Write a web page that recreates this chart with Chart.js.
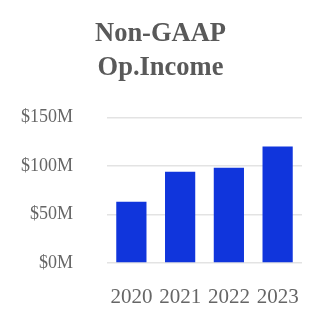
<!DOCTYPE html>
<html><head><meta charset="utf-8">
<script src="https://cdn.jsdelivr.net/npm/chart.js@4/dist/chart.umd.min.js"></script>
<style>html,body{margin:0;padding:0;background:#fff}#w{width:326px;height:326px}</style>
</head><body><div id="w"><canvas id="c"></canvas></div>
<script>
const categories = ["2020", "2021", "2022", "2023"];
const values = [63, 94, 98, 120];
const tickValues = [0, 50, 100, 150];
const titleLines = ["Non-GAAP", "Op.Income"];

new Chart(document.getElementById('c'), {
  type: 'bar',
  data: { labels: categories, datasets: [{ data: values, backgroundColor: '#1035dc', barPercentage: 0.62, categoryPercentage: 1 }] },
  options: {
    responsive: true, maintainAspectRatio: false, animation: false,
    layout: { padding: { left: 19, right: 24, top: 18, bottom: 23 } },
    plugins: {
      legend: { display: false }, tooltip: { enabled: false },
      title: { display: true, text: titleLines, color: '#595959', font: { family: 'Liberation Serif', size: 26.5, weight: 'bold', lineHeight: 1.25 }, padding: { top: 0, bottom: 33 } }
    },
    scales: {
      x: { grid: { display: false }, border: { display: false },
        afterFit: s => { s.height = 40; },
        ticks: { color: '#666', font: { family: 'Liberation Serif', size: 21 }, padding: 14, maxRotation: 0, autoSkip: false } },
      y: { min: 0, max: 150, afterBuildTicks: a => { a.ticks = tickValues.map(v => ({ value: v })); },
        afterFit: s => { s.width = 88; },
        grid: { color: '#e3e3e3', lineWidth: 1.5, drawTicks: false }, border: { display: false },
        ticks: { color: '#666', font: { family: 'Liberation Serif', size: 18 }, padding: 34, callback: v => '$' + v + 'M' } }
    }
  }
});
</script></body></html>
